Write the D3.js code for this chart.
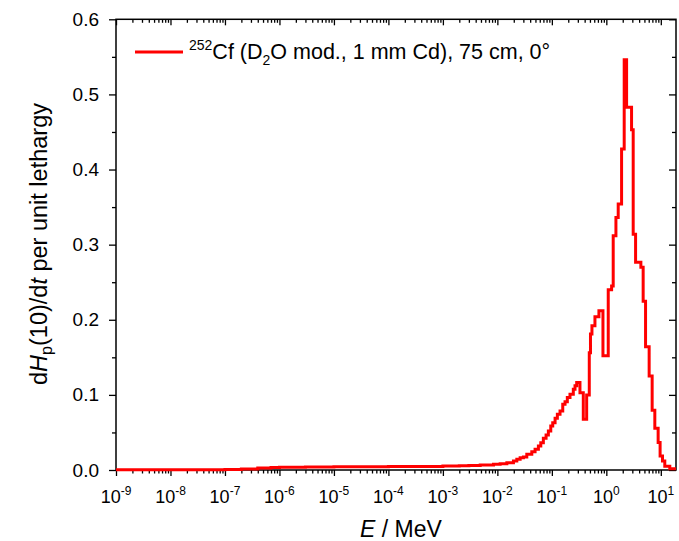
<!DOCTYPE html>
<html><head><meta charset="utf-8">
<script src="https://cdn.jsdelivr.net/npm/d3@7"></script>
<style>
body{margin:0;background:#fff}
svg text{font-family:"Liberation Sans",Arial,sans-serif;fill:#000}
</style>
</head><body>
<svg id="chart" width="679" height="541"></svg>
<script>
// Bin edges (MeV) of the histogram
const binEdges = [1e-9, 1e-8, 1e-7, 2e-7, 4e-7, 7e-7, 1e-6, 3e-6, 1e-5, 3e-5, 1e-4, 3e-4, 1e-3, 2e-3, 3e-3,
  0.00484, 0.00849, 0.01125, 0.01493, 0.01972, 0.02275, 0.02618, 0.03006, 0.03467, 0.04285, 0.0492,
  0.05662, 0.06266, 0.06982, 0.07834, 0.0863, 0.0955, 0.1038, 0.1146, 0.1262, 0.1413, 0.1585, 0.1746,
  0.1923, 0.2153, 0.2477, 0.2661, 0.2858, 0.3281, 0.3776, 0.4355, 0.4864, 0.5117, 0.5445, 0.618,
  0.7311, 0.867, 1.084, 1.25, 1.337, 1.5, 1.652, 1.905, 2.128, 2.355, 2.904, 3.112, 3.443, 4.305,
  4.742, 5.248, 6.109, 6.934, 7.762, 8.933, 9.705, 10.74, 11.83, 14.62, 19];
// dHp(10)/dt per unit lethargy, one value per bin
const doseRate = [0.0002, 0.0004, 0.0005, 0.0012, 0.0025, 0.0033, 0.0038, 0.0040, 0.0042, 0.0043, 0.0045,
  0.0048, 0.0052, 0.0056, 0.0061, 0.0067, 0.0076, 0.0084, 0.0098, 0.012, 0.0142, 0.0164, 0.0173, 0.021,
  0.0244, 0.0276, 0.032, 0.0364, 0.0422, 0.0467, 0.052, 0.0587, 0.063, 0.069, 0.0742, 0.0787, 0.0876,
  0.091, 0.0964, 0.101, 0.1076, 0.112, 0.1164, 0.103, 0.0675, 0.100, 0.156, 0.181, 0.192, 0.204, 0.212,
  0.152, 0.240, 0.245, 0.312, 0.336, 0.354, 0.4275, 0.546, 0.483, 0.453, 0.314, 0.2765, 0.270, 0.2245,
  0.164, 0.125, 0.0795, 0.0555, 0.0365, 0.0187, 0.012, 0.005, 0.0015];
const xTickExponents = [-9, -8, -7, -6, -5, -4, -3, -2, -1, 0, 1];
const yTickValues = [0, 0.1, 0.2, 0.3, 0.4, 0.5, 0.6];
const yMinorValues = [0.05, 0.15, 0.25, 0.35, 0.45, 0.55];
const seriesColor = "#ff0000";

const svg = d3.select("#chart");
const L = 116, R = 676, T = 19.3, B = 470;
const x = d3.scaleLog().domain([1e-9, 19]).range([L, R]);
const y = d3.scaleLinear().domain([0, 0.6]).range([B, T]);

const xMajor = xTickExponents.map(e => Math.pow(10, e));
const xMinor = [];
xTickExponents.forEach(e => { for (let k = 2; k <= 9; k++) { const v = k * Math.pow(10, e); if (v <= 19) xMinor.push(v); } });

function styleAxis(g) {
  g.select(".domain").remove();
  g.selectAll("line").attr("stroke", "#000").attr("stroke-width", 1.3);
  g.selectAll("text").remove();
}
// bottom
svg.append("g").attr("transform", `translate(0,${B})`).call(d3.axisBottom(x).tickValues(xMajor).tickSize(6)).call(styleAxis);
svg.append("g").attr("transform", `translate(0,${B})`).call(d3.axisBottom(x).tickValues(xMinor).tickSize(3.5)).call(styleAxis);
// top (inward)
svg.append("g").attr("transform", `translate(0,${T})`).call(d3.axisTop(x).tickValues(xMajor).tickSize(-6)).call(styleAxis);
svg.append("g").attr("transform", `translate(0,${T})`).call(d3.axisTop(x).tickValues(xMinor).tickSize(-3.5)).call(styleAxis);
// left
svg.append("g").attr("transform", `translate(${L},0)`).call(d3.axisLeft(y).tickValues(yTickValues).tickSize(7)).call(styleAxis);
svg.append("g").attr("transform", `translate(${L},0)`).call(d3.axisLeft(y).tickValues(yMinorValues).tickSize(4)).call(styleAxis);
// right (inward)
svg.append("g").attr("transform", `translate(${R},0)`).call(d3.axisRight(y).tickValues(yTickValues).tickSize(-7)).call(styleAxis);
svg.append("g").attr("transform", `translate(${R},0)`).call(d3.axisRight(y).tickValues(yMinorValues).tickSize(-4)).call(styleAxis);

// frame
svg.append("rect").attr("x", L).attr("y", T).attr("width", R - L).attr("height", B - T)
  .attr("fill", "none").attr("stroke", "#000").attr("stroke-width", 1.5);

// x tick labels
xTickExponents.forEach(e => {
  const t = svg.append("text").attr("x", x(Math.pow(10, e))).attr("y", 503)
    .attr("text-anchor", "middle").attr("font-size", 18);
  t.append("tspan").text("10");
  t.append("tspan").attr("dy", -8).attr("font-size", 12).text(String(e));
});
// y tick labels
yTickValues.forEach(v => {
  svg.append("text").attr("x", L - 17).attr("y", y(v) + 6.5).attr("text-anchor", "end")
    .attr("font-size", 19).text(v.toFixed(1));
});

// data line
const pts = binEdges.slice(0, -1).map((e, i) => [e, doseRate[i]]);
pts.push([binEdges[binEdges.length - 1], doseRate[doseRate.length - 1]]);
svg.append("defs").append("clipPath").attr("id", "clip").append("rect")
  .attr("x", L).attr("y", T).attr("width", R - L).attr("height", B - T + 2);
svg.append("path").datum(pts).attr("clip-path", "url(#clip)")
  .attr("d", d3.line().x(d => x(d[0])).y(d => y(d[1])).curve(d3.curveStepAfter))
  .attr("fill", "none").attr("stroke", seriesColor).attr("stroke-width", 3).attr("stroke-linejoin", "miter");

// axis titles
const xt = svg.append("text").attr("x", 401).attr("y", 537).attr("text-anchor", "middle").attr("font-size", 23);
xt.append("tspan").attr("font-style", "italic").text("E");
xt.append("tspan").text(" / MeV");

const yt = svg.append("text").attr("transform", "translate(47,244) rotate(-90)").attr("text-anchor", "middle").attr("font-size", 23.5);
yt.append("tspan").text("d");
yt.append("tspan").attr("font-style", "italic").text("H");
yt.append("tspan").attr("dy", 5).attr("font-size", 16).text("p");
yt.append("tspan").attr("dy", -5).text("(10)/d");
yt.append("tspan").attr("font-style", "italic").text("t");
yt.append("tspan").text(" per unit lethargy");

// legend
svg.append("line").attr("x1", 135).attr("x2", 183).attr("y1", 52).attr("y2", 52)
  .attr("stroke", seriesColor).attr("stroke-width", 3);
const lg = svg.append("text").attr("x", 189).attr("y", 59).attr("font-size", 21.5);
lg.append("tspan").attr("dy", -9).attr("font-size", 14).text("252");
lg.append("tspan").attr("dy", 9).text("Cf (D");
lg.append("tspan").attr("dy", 6).attr("font-size", 14).text("2");
lg.append("tspan").attr("dy", -6).text("O mod., 1 mm Cd), 75 cm, 0°");
</script>
</body></html>
